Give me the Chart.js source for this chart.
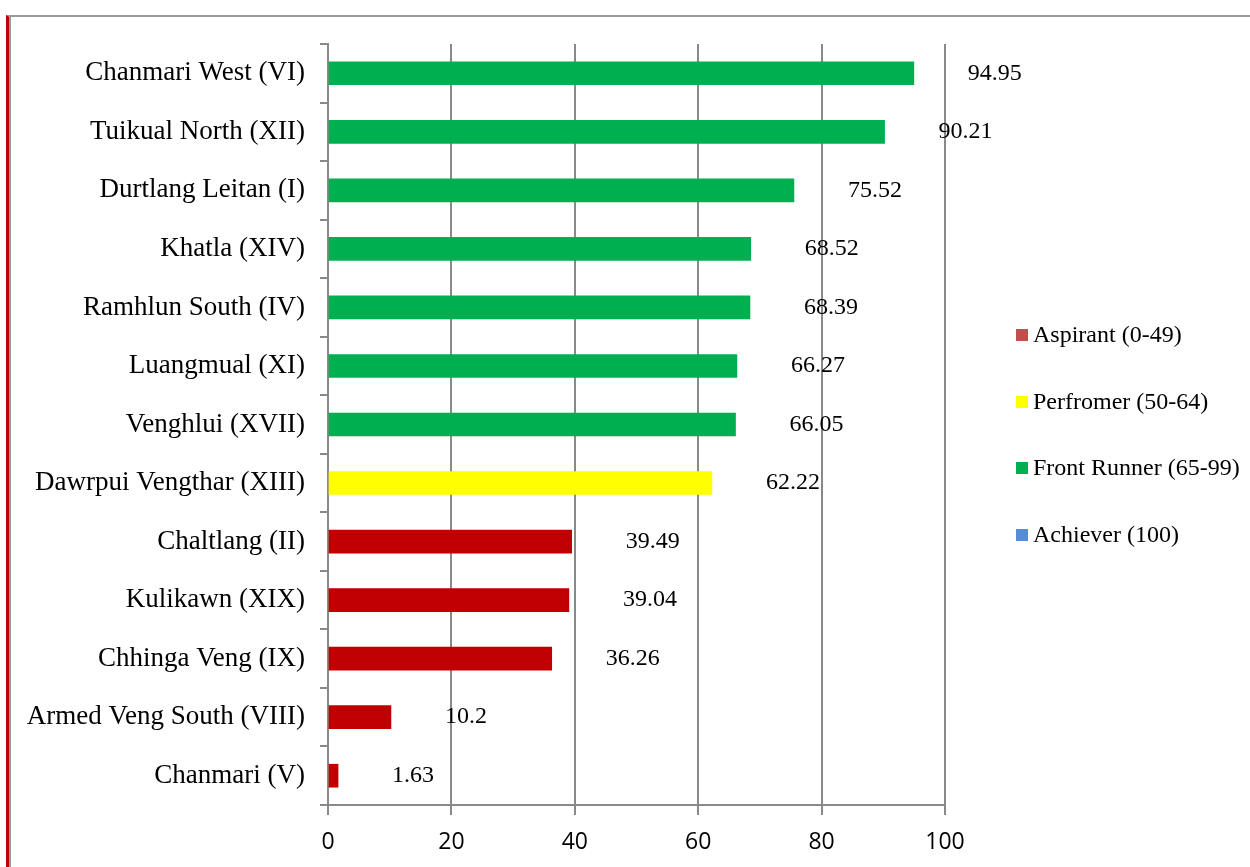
<!DOCTYPE html>
<html>
<head>
<meta charset="utf-8">
<script src="https://cdn.jsdelivr.net/npm/chart.js@4/dist/chart.umd.min.js"></script>
<style>
  html, body { margin: 0; padding: 0; background: #fff; }
  #wrap { position: relative; width: 1250px; height: 867px; overflow: hidden; }
  #frame {
    position: absolute; left: 6px; top: 15px; right: -5px; bottom: -5px;
    border-top: 2px solid #9a9a9a;
    border-left: 3px solid #c00000;
    box-shadow: inset 2px 0 0 #9a9a9a;
  }
  #chart { position: absolute; left: 0; top: 0; }
  #legend {
    position: absolute; left: 1016px; top: 318px;
    font-family: "Liberation Serif", "Times New Roman", serif; font-size: 24px; color: #000;
  }
  #legend div { height: 66.7px; line-height: 33px; white-space: nowrap; }
  #legend span.box { display: inline-block; width: 12px; height: 12px; margin-right: 5px; vertical-align: 1px; }
</style>
</head>
<body>
<div id="wrap">
  <div id="frame"></div>
  <canvas id="chart" width="1250" height="867"></canvas>
  <div id="legend"></div>
</div>
<script>
const wards = [
  "Chanmari West (VI)", "Tuikual North (XII)", "Durtlang Leitan (I)", "Khatla (XIV)",
  "Ramhlun South (IV)", "Luangmual (XI)", "Venghlui (XVII)", "Dawrpui Vengthar (XIII)",
  "Chaltlang (II)", "Kulikawn (XIX)", "Chhinga Veng (IX)", "Armed Veng South (VIII)",
  "Chanmari (V)"
];
const scores = [94.95, 90.21, 75.52, 68.52, 68.39, 66.27, 66.05, 62.22, 39.49, 39.04, 36.26, 10.2, 1.63];
const xTicks = [0, 20, 40, 60, 80, 100];

const groups = ["Aspirant (0-49)", "Perfromer (50-64)", "Front Runner (65-99)", "Achiever (100)"];
const barColors = ["#c00000", "#ffff00", "#00b050", "#558ed5"];
const legendColors = ["#c0504d", "#ffff00", "#00b050", "#558ed5"];

function groupOf(v) {
  if (v >= 100) return 3;
  if (v >= 65) return 2;
  if (v >= 50) return 1;
  return 0;
}

/* legend */
const legendEl = document.getElementById("legend");
groups.forEach((g, i) => {
  legendEl.innerHTML += `<div><span class="box" style="background:${legendColors[i]}"></span>${g}</div>`;
});

/* value labels to the right of each bar */
const valueLabels = {
  id: "valueLabels",
  afterDatasetsDraw(chart) {
    const ctx = chart.ctx;
    const meta = chart.getDatasetMeta(0);
    ctx.save();
    ctx.font = '24px "Liberation Serif", "Times New Roman", serif';
    ctx.fillStyle = "#000";
    ctx.textBaseline = "middle";
    ctx.textAlign = "left";
    meta.data.forEach((bar, i) => {
      ctx.fillText(String(scores[i]), bar.x + 54, bar.y);
    });
    ctx.restore();
  },
};

new Chart(document.getElementById("chart"), {
  type: "bar",
  data: {
    labels: wards,
    datasets: [{
      data: scores,
      backgroundColor: scores.map((v) => barColors[groupOf(v)]),
      barThickness: 23,
    }],
  },
  options: {
    indexAxis: "y",
    responsive: false,
    animation: false,
    layout: { padding: { left: 0, right: 305, top: 44, bottom: 0 } },
    plugins: {
      legend: { display: false },
      tooltip: { enabled: false },
    },
    scales: {
      x: {
        min: 0,
        max: 100,
        afterBuildTicks: (s) => { s.ticks = xTicks.map((v) => ({ value: v })); },
        afterFit: (s) => { s.height = 62; },
        grid: { color: "#898989", lineWidth: 2, tickLength: 10 },
        border: { color: "#898989", width: 2 },
        ticks: {
          color: "#000",
          padding: 14,
          font: { family: "'Open Sans', sans-serif", size: 23 },
        },
      },
      y: {
        afterFit: (s) => { s.width = 328; },
        grid: { offset: true, drawOnChartArea: false, color: "#898989", lineWidth: 2, tickLength: 8 },
        border: { color: "#898989", width: 2 },
        ticks: {
          color: "#000",
          padding: 15,
          font: { family: "'Liberation Serif', 'Times New Roman', serif", size: 27 },
        },
      },
    },
  },
  plugins: [valueLabels],
});
</script>
</body>
</html>
